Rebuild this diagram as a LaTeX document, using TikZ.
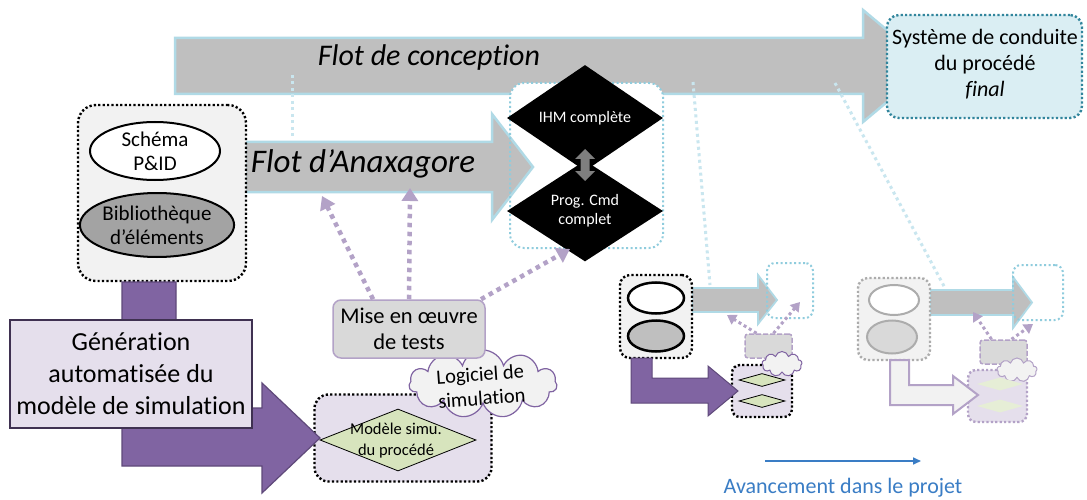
\documentclass[tikz,border=0pt]{standalone}
\usepackage{fontspec}
\setmainfont{Carlito}[Ligatures={TeX,NoCommon}]
\usetikzlibrary{shapes.geometric,shapes.symbols,arrows.meta,calc}
\definecolor{cgray}{HTML}{BFBFBF}
\definecolor{clgray}{HTML}{F2F2F2}
\definecolor{cmgray}{HTML}{D9D9D9}
\definecolor{cbord}{HTML}{B0DAE6}
\definecolor{cldot}{HTML}{C9E6EF}
\definecolor{cibox}{HTML}{8FCCDD}
\definecolor{csysf}{HTML}{DAEEF3}
\definecolor{csysb}{HTML}{31859C}
\definecolor{cpurple}{HTML}{8064A2}
\definecolor{cpurpled}{HTML}{5F497A}
\definecolor{cpurpl}{HTML}{B3A2C7}
\definecolor{clav}{HTML}{E5DFEC}
\definecolor{cgenb}{HTML}{3F3151}
\definecolor{cgreen}{HTML}{D7E4BD}
\definecolor{cpgreen}{HTML}{E6EED6}
\definecolor{cblue}{HTML}{3A7DC5}
\definecolor{cdark}{HTML}{7F7F7F}
\tikzset{
  blockgray/.style={fill=cgray, draw=cbord, line width=2.5pt, line join=miter},
  dotbox/.style={dash pattern=on 2.2pt off 2.2pt, line width=2.4pt},
  ldot/.style={draw=cldot, line width=3pt, dash pattern=on 3pt off 3.5pt},
  pdot/.style={draw=cpurpl, line width=4.5pt, dash pattern=on 4.5pt off 4.5pt, -{Triangle[length=13pt,width=16pt]}},
  pdots/.style={draw=cpurpl, line width=3pt, dash pattern=on 3pt off 3pt, -{Triangle[length=9pt,width=11pt]}},
  blackdia/.style={diamond, fill=black, text=white, inner sep=0pt, font=\fontsize{16}{20}\selectfont, align=center},
  greendia/.style={diamond, fill=cgreen, draw=black, line width=0.8pt, inner sep=0pt, align=center},
}
\begin{document}
\begin{tikzpicture}[x=1pt,y=-1pt]
\useasboundingbox[fill=white] (0,0) rectangle (1087,500);

% ---------- top design flow arrow
\draw[blockgray] (175,38) -- (863,38) -- (863,10) -- (930,66) -- (863,122) -- (863,94) -- (175,94) -- cycle;
\node[font=\fontsize{30}{34}\selectfont\itshape, inner sep=0pt] (flotc) at (429,58) {Flot de conception};

% ---------- final system box
\node[draw=csysb, fill=csysf, dotbox, rounded corners=12pt, minimum width=195pt, minimum height=103pt, inner sep=0pt] (sys) at (984.5,66.5) {};
\node[font=\fontsize{22}{26}\selectfont, align=center, inner sep=0pt] (systxt) at (985,64) {Système de conduite\\du procédé\\\textit{final}};

% ---------- light blue dotted links
\coordinate (l1a) at (292,75); \coordinate (l1b) at (292,140);
\coordinate (l2a) at (693,82); \coordinate (l2b) at (710,285);
\coordinate (l3a) at (835,83); \coordinate (l3b) at (945,288);
\draw[ldot] (l1a) -- (l1b);
\draw[ldot] (l2a) -- (l2b);
\draw[ldot] (l3a) -- (l3b);

% ---------- IHM box (fill)
\fill[white, rounded corners=14pt] (510,83) rectangle (663,248);

% ---------- Anaxagore arrow
\draw[blockgray] (245,142) -- (492,142) -- (492,114) -- (533,167) -- (492,220) -- (492,192) -- (245,192) -- cycle;
\node[font=\fontsize{33}{38}\selectfont\itshape, inner sep=0pt] (flota) at (363,164) {Flot d’Anaxagore};

% IHM box border
\draw[draw=cibox, line width=2pt, dash pattern=on 2pt off 2.5pt, rounded corners=14pt] (510,83) rectangle (663,248);
\node[blackdia, minimum width=156pt, minimum height=57pt] (ihm) at (585,118) {IHM complète};
\node[blackdia, minimum width=156pt, minimum height=54pt] (prog) at (585,211) {Prog. Cmd\\[-1pt]complet};
\fill[cdark] (585,149) -- (595,159) -- (589.5,159) -- (589.5,171) -- (595,171) -- (585,181) -- (575,171) -- (580.5,171) -- (580.5,159) -- (575,159) -- cycle;

% ---------- left box
\node[draw=black, fill=clgray, dotbox, rounded corners=18pt, minimum width=168pt, minimum height=176pt, inner sep=0pt] (lbox) at (162,193) {};
\node[ellipse, draw=black, fill=white, line width=2pt, minimum width=130pt, minimum height=58pt, inner sep=0pt, font=\fontsize{21}{24}\selectfont, align=center] (pid) at (155,151) {Schéma\\P\&ID};
\node[ellipse, draw=black, fill=cgray!80!black!90, line width=2pt, minimum width=148pt, minimum height=64pt, inner sep=0pt, font=\fontsize{21}{24}\selectfont, align=center] (bib) at (157,225) {Bibliothèque\\d’éléments};

% ---------- simulation model box
\node[draw=black, fill=clav, dotbox, rounded corners=14pt, minimum width=177pt, minimum height=87pt, inner sep=0pt] (modbox) at (403,438) {};

% ---------- purple generation arrow
\draw[fill=cpurple, draw=cpurpled, line width=1.2pt] (122,282) -- (176,282) -- (176,408) -- (262,408) -- (262,383) -- (320,438) -- (262,493) -- (262,466) -- (122,466) -- cycle;
\node[draw=cgenb, fill=clav, line width=2pt, minimum width=242pt, minimum height=108pt, inner sep=0pt, font=\fontsize{26}{32}\selectfont, align=center] (gen) at (131,374) {Génération\\automatisée du\\modèle de simulation};

\node[greendia, minimum width=156pt, minimum height=62pt] (modsim) at (398,440) {};
\node[font=\fontsize{16.5}{21}\selectfont, align=center, inner sep=0pt] (modtxt) at (396,441) {Modèle simu.\\du procédé};
\node[cloud, cloud puffs=11, aspect=2.3, draw=cpurple, fill=clgray, line width=1.2pt, minimum width=148pt, minimum height=68pt, inner sep=0pt] (logi) at (483,384) {};
\node[font=\fontsize{20.5}{24}\selectfont, align=center, rotate=4, inner sep=0pt] (logitxt) at (481,386) {Logiciel de\\simulation};

% ---------- tests box and arrows
\node[draw=cpurpl, fill=cmgray, line width=1.5pt, rounded corners=8pt, minimum width=152pt, minimum height=58pt, inner sep=0pt, font=\fontsize{22.5}{26}\selectfont, align=center] (mise) at (409,329) {Mise en œuvre\\de tests};
\coordinate (t1) at (322,196); \coordinate (t2) at (410,188); \coordinate (t3) at (570,249);
\draw[pdot] ([xshift=-36pt]mise.north) -- (t1);
\draw[pdot] (mise.north) -- (t2);
\draw[pdot] ([xshift=72pt]mise.north) -- (t3);

% ---------- column 3 (mini)
\draw[blockgray, line width=1.8pt] (692,288) -- (758,288) -- (758,275) -- (777,300) -- (758,324) -- (758,312) -- (692,312) -- cycle;
\node[draw=black, fill=clgray, dotbox, rounded corners=10pt, minimum width=72pt, minimum height=83pt, inner sep=0pt] (m3box) at (656,316.5) {};
\node[ellipse, draw=black, fill=white, line width=2.5pt, minimum width=56pt, minimum height=31pt, inner sep=0pt] (m3e1) at (656,298) {};
\node[ellipse, draw=black, fill=cgray, line width=2.5pt, minimum width=56pt, minimum height=31pt, inner sep=0pt] (m3e2) at (656,336) {};
\node[draw=cibox, line width=2pt, dash pattern=on 2pt off 2.5pt, rounded corners=8pt, minimum width=46pt, minimum height=55pt, inner sep=0pt] (m3tgt) at (790,290.5) {};
\node[draw=cpurpl, fill=cmgray, line width=1.5pt, dash pattern=on 5pt off 2pt, rounded corners=3pt, minimum width=47pt, minimum height=24pt, inner sep=0pt] (m3mise) at (768.5,346) {};
\coordinate (m3t1) at (727,315); \coordinate (m3t2) at (800,302);
\draw[pdots] ([xshift=-12pt]m3mise.north) -- (m3t1);
\draw[pdots] ([xshift=5pt]m3mise.north) -- (m3t2);
\node[draw=black, fill=clav, dotbox, rounded corners=8pt, minimum width=60pt, minimum height=52pt, inner sep=0pt] (m3mod) at (762,391) {};
\node[cloud, cloud puffs=9, aspect=1.6, draw=cpurple, fill=clgray, line width=1pt, minimum width=40pt, minimum height=25pt, inner sep=0pt] (m3cl) at (782,364) {};
\node[greendia, minimum width=46pt, minimum height=13pt] (m3d1) at (762,380) {};
\node[greendia, minimum width=46pt, minimum height=13pt] (m3d2) at (762,401) {};
\draw[fill=cpurple, draw=cpurpled, line width=1pt] (631,358) -- (652,358) -- (652,378) -- (708,378) -- (708,366) -- (738,391) -- (708,416) -- (708,403) -- (631,403) -- cycle;

% ---------- column 4 (faded)
\draw[blockgray, line width=1.8pt] (930,290) -- (1013,290) -- (1013,277) -- (1032,302.5) -- (1013,328) -- (1013,315) -- (930,315) -- cycle;
\node[draw=cgray!90!black, fill=clgray, dotbox, rounded corners=10pt, minimum width=72pt, minimum height=82pt, inner sep=0pt] (m4box) at (894,319) {};
\node[ellipse, draw=cgray!90!black, fill=white, line width=2pt, minimum width=50pt, minimum height=30pt, inner sep=0pt] (m4e1) at (894,300) {};
\node[ellipse, draw=cgray!90!black, fill=cmgray, line width=2pt, minimum width=50pt, minimum height=33pt, inner sep=0pt] (m4e2) at (892,337) {};
\node[draw=cibox, line width=2pt, dash pattern=on 2pt off 2.5pt, rounded corners=8pt, minimum width=50pt, minimum height=55pt, inner sep=0pt] (m4tgt) at (1038,292.5) {};
\node[draw=cpurpl, fill=cmgray, line width=1.5pt, dash pattern=on 5pt off 2pt, rounded corners=3pt, minimum width=47pt, minimum height=24pt, inner sep=0pt] (m4mise) at (1003.5,352) {};
\coordinate (m4t1) at (973,312); \coordinate (m4t2) at (1033,324);
\draw[pdots] ([xshift=-12pt]m4mise.north) -- (m4t1);
\draw[pdots] ([xshift=8pt]m4mise.north) -- (m4t2);
\node[draw=cpurpl, fill=clav, dotbox, rounded corners=8pt, minimum width=59pt, minimum height=52pt, inner sep=0pt] (m4mod) at (997.5,396) {};
\node[cloud, cloud puffs=9, aspect=1.6, draw=cpurpl, fill=clgray, line width=1pt, minimum width=40pt, minimum height=24pt, inner sep=0pt] (m4cl) at (1017,370) {};
\node[diamond, fill=cpgreen, inner sep=0pt, minimum width=46pt, minimum height=13pt] (m4d1) at (1000,384) {};
\node[diamond, fill=cpgreen, inner sep=0pt, minimum width=46pt, minimum height=13pt] (m4d2) at (1000,406) {};
\draw[fill=clgray, draw=cpurpl, line width=2pt] (890,360) -- (909,360) -- (909,385) -- (953,385) -- (953,376) -- (978,395) -- (953,414) -- (953,405) -- (890,405) -- cycle;

% ---------- progress arrow
\coordinate (pa) at (765,461); \coordinate (pb) at (921,461);
\draw[cblue, line width=1.6pt, -{Triangle[length=8pt,width=7pt]}] (pa) -- (pb);
\node[text=cblue, font=\fontsize{22}{26}\selectfont, inner sep=0pt] (avanc) at (843,488) {Avancement dans le projet};
\end{tikzpicture}
\end{document}
